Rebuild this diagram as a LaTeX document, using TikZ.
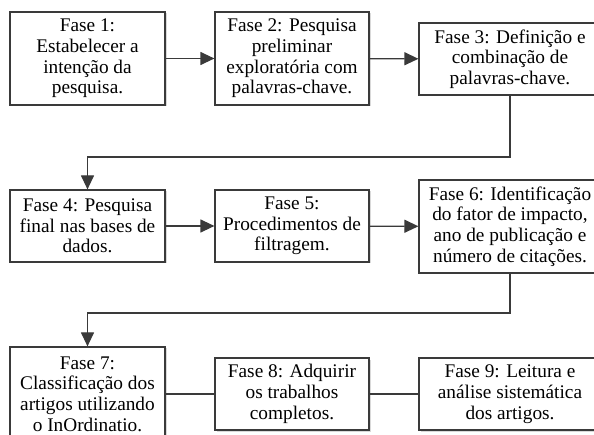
\documentclass[tikz,border=0pt]{standalone}
\usepackage{fontspec}
\setmainfont{Liberation Serif}
\usetikzlibrary{arrows.meta,shadows}
\definecolor{edge}{HTML}{3A3A3A}
\begin{document}
\begin{tikzpicture}[x=1pt,y=-1pt,
  fase/.style={draw=edge, line width=1.2pt, fill=white, align=center, inner sep=0pt,
    font=\fontsize{19.3}{20.7}\selectfont,
    drop shadow={opacity=0.3, shadow xshift=1.5pt, shadow yshift=-1.5pt}},
  arr/.style={draw=edge, line width=1.2pt, -{Triangle[length=14pt,width=13pt]}},
  link/.style={draw=edge, line width=1.2pt}]
\useasboundingbox (0,0) rectangle (594,435);
\begin{scope}
\clip (0,0) rectangle (594,435);
\node[fase, minimum width=155pt, minimum height=93pt] (b1) at (87.5,58.5) {Fase 1:\\Estabelecer a\\intenção da\\pesquisa.};
\node[fase, minimum width=154pt, minimum height=93pt] (b2) at (292,58.5) {Fase 2: Pesquisa\\preliminar\\exploratória com\\palavras-chave.};
\node[fase, minimum width=182pt, minimum height=72pt] (b3) at (510,59) {Fase 3: Definição e\\combinação de\\palavras-chave.};
\node[fase, minimum width=155pt, minimum height=72pt] (b4) at (87.5,226) {Fase 4: Pesquisa\\final nas bases de\\dados.};
\node[fase, minimum width=154pt, minimum height=72pt] (b5) at (292,226) {Fase 5:\\Procedimentos de\\filtragem.};
\node[fase, minimum width=182pt, minimum height=93pt] (b6) at (510,226.5) {Fase 6: Identificação\\do fator de impacto,\\ano de publicação e\\número de citações.};
\node[fase, minimum width=155pt, minimum height=94pt] (b7) at (87.5,394) {Fase 7:\\Classificação dos\\artigos utilizando\\o InOrdinatio.};
\node[fase, minimum width=154pt, minimum height=72pt] (b8) at (292,394) {Fase 8: Adquirir\\os trabalhos\\completos.};
\node[fase, minimum width=182pt, minimum height=72pt] (b9) at (510,394) {Fase 9: Leitura e\\análise sistemática\\dos artigos.};
\coordinate (c1) at (510,157);
\coordinate (c2) at (510,313);
\draw[arr] (b1) -- (b2);
\draw[arr] (b2) -- (b3);
\draw[arr] (b3.south) -- (c1) -| (b4.north);
\draw[arr] (b4) -- (b5);
\draw[arr] (b5) -- (b6);
\draw[arr] (b6.south) -- (c2) -| (b7.north);
\draw[link] (b7) -- (b8);
\draw[link] (b8) -- (b9);
\end{scope}
\end{tikzpicture}
\end{document}
